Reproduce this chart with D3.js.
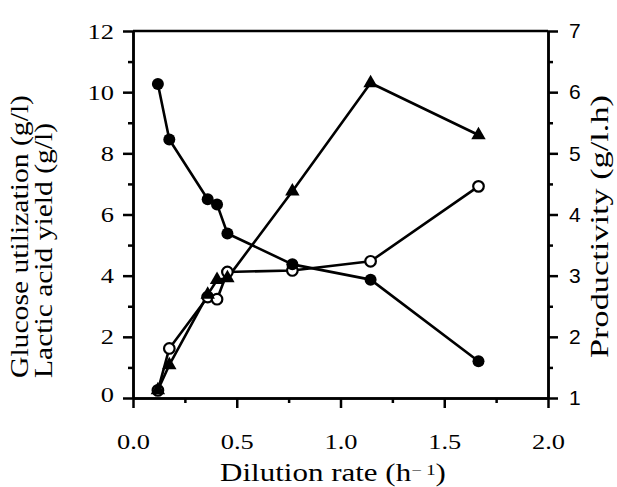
<!DOCTYPE html>
<html>
<head>
<meta charset="utf-8">
<script src="https://cdnjs.cloudflare.com/ajax/libs/d3/7.8.5/d3.min.js"></script>
<style>
  body { margin: 0; background: #fff; }
  svg { display: block; }
  .tick text { font-family: 'Liberation Serif', serif; font-size: 22px; fill: #000; }
  .right .tick text { font-family: 'Liberation Sans', sans-serif; font-size: 21px; }
  .domain, .tick line { stroke: #000; stroke-width: 2.5px; }
  .title { font-family: 'Liberation Serif', serif; font-size: 25px; fill: #000; }
</style>
</head>
<body>
<div id="chart"></div>
<script>
// DATA
const dilution = [0.12, 0.175, 0.36, 0.405, 0.455, 0.768, 1.145, 1.665];
const glucose = [10.27, 8.45, 6.5, 6.33, 5.38, 4.37, 3.87, 1.2];      // filled circles, left axis
const lactic = [0.25, 1.62, 3.3, 3.23, 4.12, 4.17, 4.47, 6.92];       // open circles, left axis
const productivity = [1.13, 1.54, 2.69, 2.93, 2.96, 4.38, 6.15, 5.3];  // triangles, right axis

const xTicks = [0, 0.5, 1, 1.5, 2];
const xMinor = [0.25, 0.75, 1.25, 1.75];
const yLeftTicks = [0, 2, 4, 6, 8, 10, 12];
const yLeftMinor = [1, 3, 5, 7, 9, 11];
const yRightTicks = [1, 2, 3, 4, 5, 6, 7];
const yRightMinor = [1.5, 2.5, 3.5, 4.5, 5.5, 6.5];

document.addEventListener('DOMContentLoaded', function(){
  drawChart();
});

// widen serif labels a bit, the scan's type is broader than Times
function stretch(sel, k) {
  sel.selectAll('.tick text').each(function(){
    const t = d3.select(this);
    const x0 = +t.attr('x') || 0;
    t.attr('x', x0 / k).attr('transform', 'scale(' + k + ',1)');
  });
}

function drawChart() {
  const width = 617, height = 487;
  const svg = d3.select('#chart').append('svg')
    .attr('width', width)
    .attr('height', height);

  // scales
  const x = d3.scaleLinear().domain([0, 2]).range([133, 548]);
  const yL = d3.scaleLinear().domain([0, 12]).range([398, 31]);
  const yR = d3.scaleLinear().domain([1, 7]).range([398, 31]);

  // axes
  const xAx = svg.append('g').attr('transform', 'translate(0,' + yL(0) + ')')
    .call(d3.axisBottom(x).tickValues(xTicks).tickSize(10).tickSizeOuter(0).tickPadding(25).tickFormat(d3.format('.1f')));
  stretch(xAx, 1.2);
  svg.append('g').attr('transform', 'translate(0,' + yL(0) + ')')
    .call(d3.axisBottom(x).tickValues(xMinor).tickSize(5).tickSizeOuter(0).tickFormat(''));

  const yAx = svg.append('g').attr('transform', 'translate(' + x(0) + ',0)')
    .call(d3.axisLeft(yL).tickValues(yLeftTicks).tickSize(10).tickSizeOuter(0).tickPadding(9).tickFormat(d3.format('d')));
  stretch(yAx, 1.2);
  svg.append('g').attr('transform', 'translate(' + x(0) + ',0)')
    .call(d3.axisLeft(yL).tickValues(yLeftMinor).tickSize(5).tickSizeOuter(0).tickFormat(''));

  svg.append('g').classed('right', true).attr('transform', 'translate(' + x(2) + ',0)')
    .call(d3.axisRight(yR).tickValues(yRightTicks).tickSize(10).tickSizeOuter(0).tickPadding(11).tickFormat(d3.format('d')));
  svg.append('g').attr('transform', 'translate(' + x(2) + ',0)')
    .call(d3.axisRight(yR).tickValues(yRightMinor).tickSize(5).tickSizeOuter(0).tickFormat(''));

  // top frame
  svg.append('line')
    .attr('x1', x(0)).attr('x2', x(2))
    .attr('y1', yL(12)).attr('y2', yL(12))
    .attr('stroke', '#000').attr('stroke-width', 2.5);

  // the bottom "0" sits a little higher in the original
  yAx.selectAll('.tick text').filter(function(){ return this.textContent === '0'; }).attr('dy', '0.15em');

  // lines
  const lineL = d3.line().x((d, i) => x(dilution[i])).y(d => yL(d));
  const lineR = d3.line().x((d, i) => x(dilution[i])).y(d => yR(d));
  [lineL(glucose), lineL(lactic), lineR(productivity)].forEach(p => {
    svg.append('path').attr('d', p)
      .attr('fill', 'none').attr('stroke', '#000').attr('stroke-width', 2.6)
      .attr('stroke-linejoin', 'round');
  });

  // markers
  svg.selectAll('.open').data(lactic).enter().append('circle')
    .attr('cx', (d, i) => x(dilution[i])).attr('cy', d => yL(d))
    .attr('r', 5.3).attr('fill', '#fff').attr('stroke', '#000').attr('stroke-width', 2.2);

  svg.selectAll('.tri').data(productivity).enter().append('path')
    .attr('d', d3.symbol(d3.symbolTriangle).size(90))
    .attr('transform', (d, i) => 'translate(' + x(dilution[i]) + ',' + yR(d) + ')')
    .attr('fill', '#000');

  svg.selectAll('.filled').data(glucose).enter().append('circle')
    .attr('cx', (d, i) => x(dilution[i])).attr('cy', d => yL(d))
    .attr('r', 6).attr('fill', '#000');

  // titles
  svg.append('text').attr('class', 'title')
    .attr('transform', 'translate(28,378) rotate(-90)')
    .attr('textLength', 283).attr('lengthAdjust', 'spacingAndGlyphs')
    .text('Glucose utilization (g/l)');
  svg.append('text').attr('class', 'title')
    .attr('transform', 'translate(52,378) rotate(-90)')
    .attr('textLength', 255).attr('lengthAdjust', 'spacingAndGlyphs')
    .text('Lactic acid yield (g/l)');
  svg.append('text').attr('class', 'title')
    .attr('transform', 'translate(608,358) rotate(-90)')
    .attr('textLength', 263).attr('lengthAdjust', 'spacingAndGlyphs')
    .text('Productivity (g/l.h)');

  const xt = svg.append('text').attr('class', 'title')
    .attr('x', 333).attr('y', 481).attr('text-anchor', 'middle')
    .attr('font-size', '22px')
    .attr('transform', 'translate(333,0) scale(1.24,1) translate(-333,0)');
  xt.append('tspan').text('Dilution rate (h');
  xt.append('tspan').attr('font-size', '15px').attr('dy', -6).text('\u2212 1');
  xt.append('tspan').attr('dy', 6).text(')');
}
</script>
</body>
</html>
